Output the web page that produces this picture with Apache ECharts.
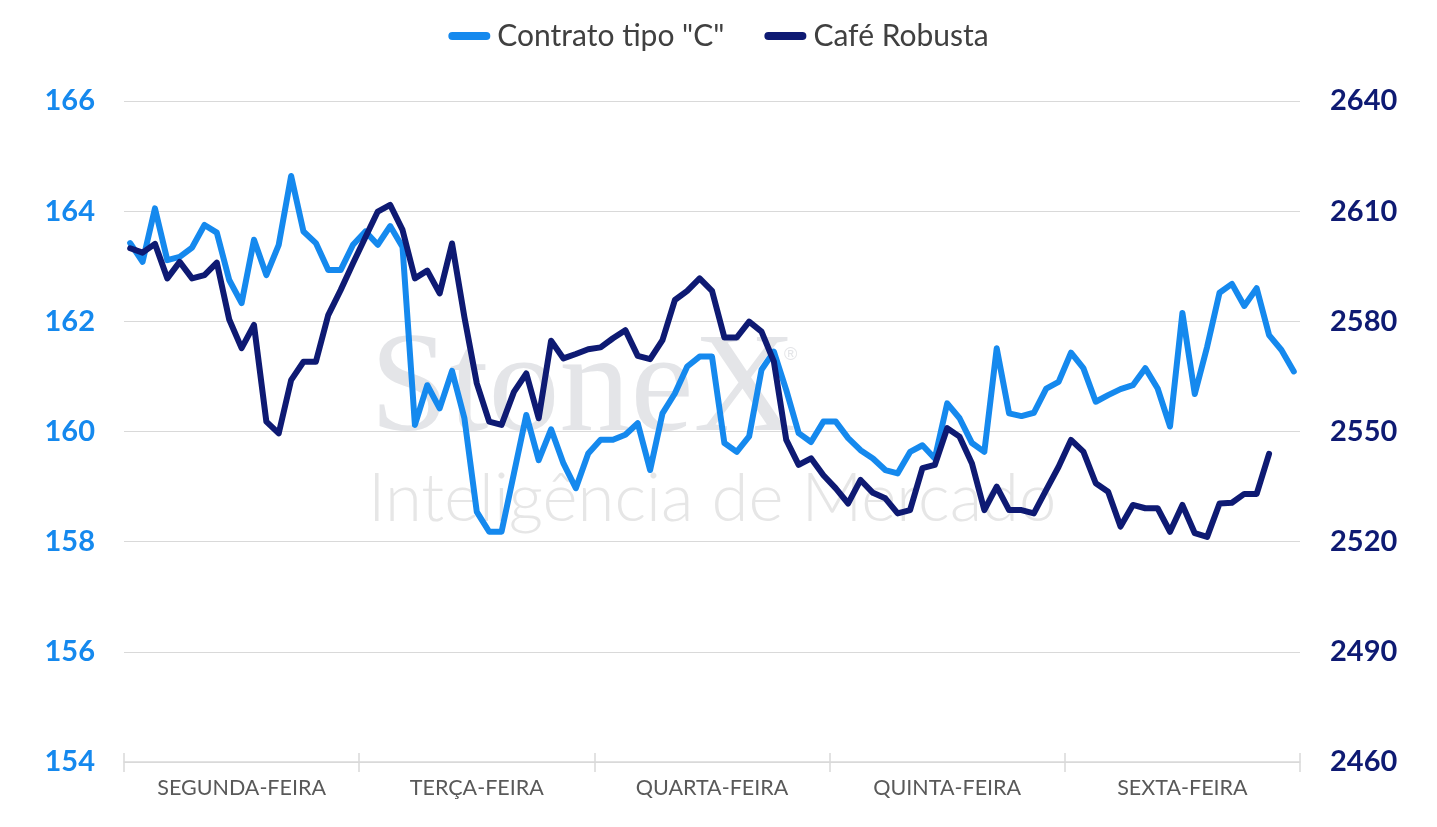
<!DOCTYPE html>
<html>
<head>
<meta charset="utf-8">
<script src="https://cdn.jsdelivr.net/npm/echarts@6/dist/echarts.min.js"></script>
<style>
html,body{margin:0;padding:0;background:#fff;}
#chart{width:1437px;height:827px;}
</style>
</head>
<body>
<div id="chart"></div>
<script>
// Days (x-axis labels) and number of intraday points per day
const days = ['SEGUNDA-FEIRA', 'TERÇA-FEIRA', 'QUARTA-FEIRA', 'QUINTA-FEIRA', 'SEXTA-FEIRA'];
const pointsPerDay = 19;

// Contrato tipo "C" (left axis)
const contratoC = [
  163.42, 163.08, 164.05, 163.11, 163.17, 163.34, 163.75, 163.61, 162.75, 162.33,
  163.48, 162.84, 163.39, 164.64, 163.63, 163.42, 162.93, 162.93, 163.39,
  163.63, 163.39, 163.73, 163.35, 160.12, 160.84, 160.42, 161.10, 160.24, 158.54,
  158.18, 158.18, 159.24, 160.30, 159.48, 160.04, 159.42, 158.97, 159.60,
  159.85, 159.85, 159.94, 160.15, 159.30, 160.33, 160.69, 161.18, 161.36, 161.36,
  159.79, 159.63, 159.91, 161.12, 161.45, 160.75, 159.97, 159.81, 160.18,
  160.18, 159.88, 159.66, 159.51, 159.30, 159.24, 159.63, 159.75, 159.51, 160.51,
  160.24, 159.79, 159.63, 161.51, 160.33, 160.28, 160.34, 160.78, 160.90,
  161.43, 161.15, 160.54, 160.66, 160.77, 160.84, 161.15, 160.78, 160.09, 162.15,
  160.68, 161.54, 162.52, 162.68, 162.28, 162.60, 161.75, 161.48, 161.09
];

// Café Robusta (right axis)
const robusta = [
  2599.9, 2598.7, 2601.1, 2591.7, 2596.2, 2591.7, 2592.6, 2596.0, 2580.5, 2572.7,
  2579.0, 2552.7, 2549.5, 2564.0, 2569.0, 2569.0, 2581.7, 2588.5, 2595.8,
  2602.9, 2609.9, 2611.7, 2604.9, 2591.7, 2593.8, 2587.6, 2601.2, 2581.1, 2563.1,
  2552.7, 2551.8, 2560.8, 2565.8, 2553.6, 2574.7, 2569.9, 2571.1, 2572.4,
  2572.9, 2575.4, 2577.6, 2570.6, 2569.7, 2574.9, 2585.8, 2588.3, 2591.7, 2588.3,
  2575.6, 2575.6, 2579.9, 2577.2, 2569.0, 2547.7, 2540.9, 2542.7, 2538.1,
  2534.5, 2530.4, 2536.8, 2533.3, 2531.8, 2527.7, 2528.6, 2540.0, 2540.9, 2550.9,
  2548.6, 2541.3, 2528.6, 2535.0, 2528.6, 2528.6, 2527.7, 2534.1, 2540.4,
  2547.7, 2544.5, 2535.9, 2533.6, 2524.1, 2530.0, 2529.1, 2529.1, 2522.7, 2530.0,
  2522.3, 2521.3, 2530.4, 2530.6, 2533.0, 2533.0, 2543.9
];

// Axis scale settings
const leftAxis = { min: 154, max: 166, interval: 2 };
const rightAxis = { min: 2460, max: 2640, interval: 30 };

const seriesNames = ['Contrato tipo "C"', 'Café Robusta'];

// Build category list: one entry per intraday point
const categories = [];
days.forEach((d) => {
  for (let k = 0; k < pointsPerDay; k++) categories.push(d + '|' + k);
});

const lightBlue = '#1589EE';
const navy = '#0E1A73';
const capsule = 'path://M4,0 L38,0 A4,4 0 0 1 38,8 L4,8 A4,4 0 0 1 4,0 Z';

const chart = echarts.init(document.getElementById('chart'));
chart.setOption({
  animation: false,
  backgroundColor: '#ffffff',
  textStyle: { fontFamily: 'Lato' },
  legend: {
    top: 16,
    left: 'center',
    itemWidth: 42,
    itemHeight: 8,
    itemGap: 40,
    textStyle: { fontFamily: 'Lato', fontSize: 30, color: '#404040', padding: [0, 0, 0, 2] },
    data: [
      { name: seriesNames[0], icon: capsule },
      { name: seriesNames[1], icon: capsule }
    ]
  },
  grid: { left: 124, right: 137, top: 101, bottom: 65, containLabel: false },
  graphic: [
    {
      type: 'text', left: 370, top: 322, z: 0, silent: true,
      style: { text: 'StoneX', font: '142px "Liberation Serif"', fill: '#e4e5e8' }
    },
    {
      type: 'text', left: 784, top: 346, z: 0, silent: true,
      style: { text: '®', font: '18px "Liberation Sans"', fill: '#e4e5e8' }
    },
    {
      type: 'text', left: 368, top: 466, z: 0, silent: true,
      style: { text: 'Inteligência de Mercado', font: '300 67px Lato', fill: '#e6e6e6' }
    }
  ],
  xAxis: [
    {
      type: 'category',
      data: categories,
      boundaryGap: true,
      axisLine: { show: true, lineStyle: { color: '#d9d9d9', width: 1.5 } },
      axisTick: {
        show: true, length: 10, lineStyle: { color: '#d9d9d9', width: 1.5 },
        interval: (i) => i % pointsPerDay === 0
      },
      axisLabel: {
        interval: (i) => i % pointsPerDay === Math.floor(pointsPerDay / 2),
        formatter: (v) => v.split('|')[0],
        fontFamily: 'Lato', fontSize: 21.5, color: '#595959', margin: 15
      },
      splitLine: { show: false }
    },
    {
      type: 'category',
      data: categories,
      boundaryGap: true,
      position: 'bottom',
      axisLine: { show: false },
      axisTick: {
        show: true, inside: true, length: 9, lineStyle: { color: '#d9d9d9', width: 1.5 },
        interval: (i) => i % pointsPerDay === 0
      },
      axisLabel: { show: false },
      splitLine: { show: false }
    }
  ],
  yAxis: [
    {
      type: 'value',
      min: leftAxis.min, max: leftAxis.max, interval: leftAxis.interval,
      axisLine: { show: false }, axisTick: { show: false },
      axisLabel: { fontFamily: 'Lato', fontWeight: 'bold', fontSize: 29, color: lightBlue, margin: 29,
        formatter: (v) => String(v) },
      splitLine: { show: true, lineStyle: { color: '#d9d9d9', width: 1 } }
    },
    {
      type: 'value',
      min: rightAxis.min, max: rightAxis.max, interval: rightAxis.interval,
      axisLine: { show: false }, axisTick: { show: false },
      axisLabel: { fontFamily: 'Lato', fontWeight: 'bold', fontSize: 29, color: navy, margin: 30,
        formatter: (v) => String(v) },
      splitLine: { show: false }
    }
  ],
  series: [
    {
      name: seriesNames[0], type: 'line', xAxisIndex: 0, yAxisIndex: 0,
      data: contratoC, showSymbol: false, symbol: 'none', smooth: false,
      lineStyle: { color: lightBlue, width: 6, cap: 'round', join: 'round' },
      itemStyle: { color: lightBlue }, z: 3
    },
    {
      name: seriesNames[1], type: 'line', xAxisIndex: 0, yAxisIndex: 1,
      data: robusta, showSymbol: false, symbol: 'none', smooth: false,
      lineStyle: { color: navy, width: 6, cap: 'round', join: 'round' },
      itemStyle: { color: navy }, z: 4
    }
  ]
});
</script>
</body>
</html>
